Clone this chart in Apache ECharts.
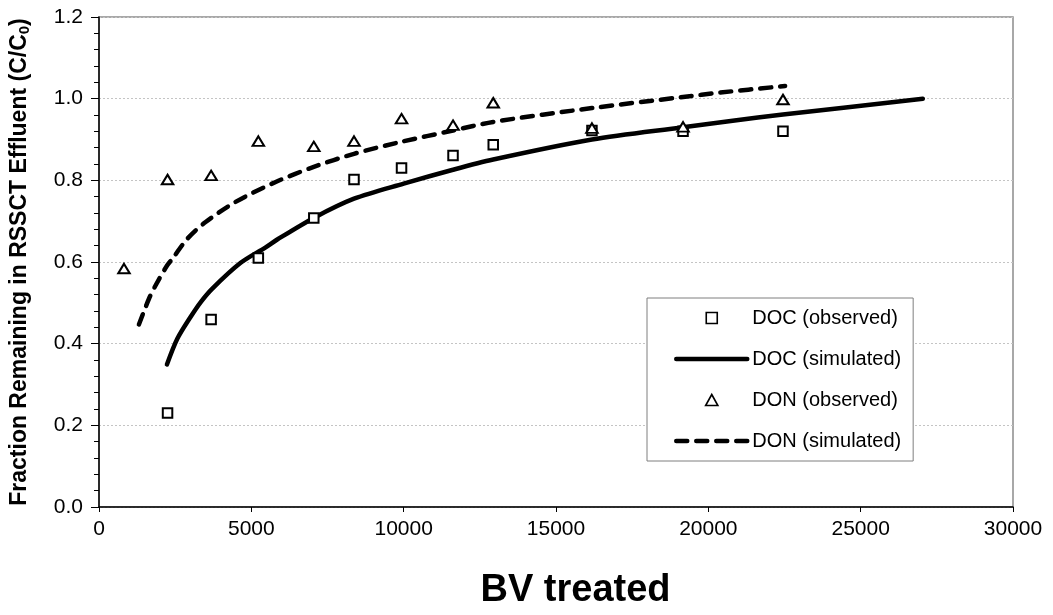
<!DOCTYPE html>
<html>
<head>
<meta charset="utf-8">
<script src="https://cdn.jsdelivr.net/npm/echarts@6/dist/echarts.min.js"></script>
<style>
html,body{margin:0;padding:0;background:#fff;}
#chart{width:1053px;height:615px;}
</style>
</head>
<body>
<div id="chart"></div>
<script>
// ---- data ----
const bvObs   = [2250, 3680, 5230, 7050, 8370, 9930, 11620, 12940, 16180, 19170, 22450];
const docObs  = [0.230, 0.459, 0.610, 0.708, 0.802, 0.830, 0.861, 0.887, 0.922, 0.920, 0.920];
const bvDonObs = [820, 2250, 3680, 5230, 7050, 8370, 9930, 11620, 12940, 16180, 19170, 22450];
const donObs  = [0.584, 0.802, 0.812, 0.896, 0.883, 0.896, 0.951, 0.935, 0.990, 0.928, 0.931, 0.998];

const bvDocSim = [2230, 2570, 3010, 3340, 3720, 4650, 5470, 5850, 7050, 8370, 10000, 11620, 12940, 16180, 19170, 20800, 22450, 27040];
const docSim   = [0.349, 0.412, 0.466, 0.502, 0.535, 0.598, 0.636, 0.655, 0.708, 0.755, 0.792, 0.826, 0.851, 0.900, 0.930, 0.946, 0.961, 1.000];
const bvDonSim = [1310, 1640, 1860, 2240, 2410, 2900, 3500, 4480, 5800, 7050, 8370, 9900, 11620, 12940, 16180, 19170, 20390, 22520];
const donSim   = [0.447, 0.510, 0.543, 0.592, 0.608, 0.657, 0.698, 0.747, 0.796, 0.833, 0.865, 0.894, 0.922, 0.943, 0.977, 1.004, 1.015, 1.031];

const seriesNames = ['DOC (observed)', 'DOC (simulated)', 'DON (observed)', 'DON (simulated)'];
const xTicks = {min: 0, max: 30000, interval: 5000};
const yTicks = {min: 0, max: 1.2, interval: 0.2};

const zip = (xs, ys) => xs.map((x, i) => [x, ys[i]]);
const FONT = '"Liberation Sans", Arial, Helvetica, sans-serif';
const hiddenSymbol = {color: 'rgba(0,0,0,0)', borderColor: 'rgba(0,0,0,0)', borderWidth: 0, opacity: 0};

const chart = echarts.init(document.getElementById('chart'), null, {renderer: 'canvas'});
chart.setOption({
  backgroundColor: '#fff',
  animation: false,
  grid: {
    left: 98, right: 40, top: 17, bottom: 106.5,
    show: true, borderColor: '#8c8c8c', borderWidth: 1.5, backgroundColor: 'transparent'
  },
  legend: {
    orient: 'vertical',
    left: 647, top: 298,
    padding: [10, 12, 10, 27],
    itemWidth: 71, itemHeight: 11, itemGap: 21,
    borderColor: '#7f7f7f', borderWidth: 1, backgroundColor: '#fff',
    textStyle: {fontFamily: FONT, fontSize: 20, color: '#000'},
    itemStyle: {borderWidth: 1.6, opacity: 1},
    lineStyle: {width: 4.5},
    data: [
      {name: seriesNames[0], icon: 'path://M0,0h10v10h-10z'},
      {name: seriesNames[1], itemStyle: hiddenSymbol},
      {name: seriesNames[2], icon: 'path://M5,0L10,9L0,9Z'},
      {name: seriesNames[3], itemStyle: hiddenSymbol}
    ]
  },
  xAxis: {
    type: 'value', min: xTicks.min, max: xTicks.max, interval: xTicks.interval,
    name: 'BV treated', nameLocation: 'middle', nameGap: 65,
    nameTextStyle: {fontFamily: FONT, fontSize: 38, fontWeight: 'bold', color: '#000', padding: [0, 0, 0, 39]},
    axisLine: {show: true, onZero: false, lineStyle: {color: '#000', width: 1.5}},
    axisTick: {show: true, inside: false, length: 5, lineStyle: {color: '#000'}},
    axisLabel: {fontFamily: FONT, fontSize: 21, color: '#000', margin: 12, formatter: v => String(v)},
    splitLine: {show: false}
  },
  yAxis: {
    type: 'value', min: yTicks.min, max: yTicks.max, interval: yTicks.interval,
    name: 'Fraction Remaining in RSSCT Effluent (C/C{s|0})',
    nameLocation: 'middle', nameGap: 67,
    nameTextStyle: {
      fontFamily: FONT, fontSize: 23, fontWeight: 'bold', color: '#000',
      rich: {s: {fontFamily: FONT, fontSize: 15, fontWeight: 'bold', color: '#000', verticalAlign: 'bottom', padding: [10, 0, 0, 0]}}
    },
    axisLine: {show: true, onZero: false, lineStyle: {color: '#000', width: 1.5}},
    axisTick: {show: true, inside: false, length: 8, lineStyle: {color: '#000'}},
    minorTick: {show: true, splitNumber: 5, length: 5, lineStyle: {color: '#000'}},
    axisLabel: {fontFamily: FONT, fontSize: 21, color: '#000', margin: 16, formatter: v => v.toFixed(1)},
    splitLine: {show: true, lineStyle: {color: '#c4c4c4', width: 1, type: [2, 2]}},
    minorSplitLine: {show: false}
  },
  series: [
    {
      name: seriesNames[0], type: 'scatter', data: zip(bvObs, docObs),
      symbol: 'rect', symbolSize: 9.5,
      itemStyle: {color: '#fff', borderColor: '#000', borderWidth: 2, opacity: 1}, z: 5
    },
    {
      name: seriesNames[1], type: 'line', data: zip(bvDocSim, docSim),
      symbol: 'none', showSymbol: false, smooth: 0.3, color: '#000',
      lineStyle: {color: '#000', width: 4.5, cap: 'round', join: 'round'}, z: 3
    },
    {
      name: seriesNames[2], type: 'scatter', data: zip(bvDonObs, donObs),
      symbol: 'triangle', symbolSize: [11.5, 9.5],
      itemStyle: {color: '#fff', borderColor: '#000', borderWidth: 2, opacity: 1}, z: 5
    },
    {
      name: seriesNames[3], type: 'line', data: zip(bvDonSim, donSim),
      symbol: 'none', showSymbol: false, smooth: 0.3, color: '#000',
      lineStyle: {color: '#000', width: 4.5, type: [11, 9], cap: 'round', join: 'round'}, z: 3
    }
  ]
});
</script>
</body>
</html>
